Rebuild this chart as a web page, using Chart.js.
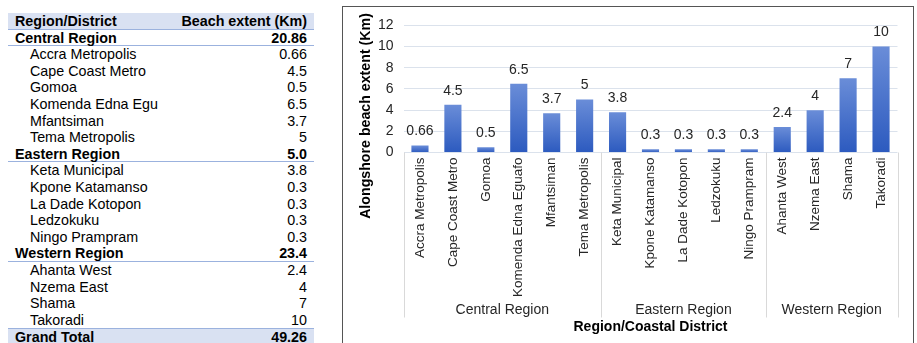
<!DOCTYPE html>
<html>
<head>
<meta charset="utf-8">
<script src="https://cdn.jsdelivr.net/npm/chart.js@4.4.1/dist/chart.umd.min.js"></script>
<style>
  html, body { margin: 0; padding: 0; background: #fff; width: 917px; height: 343px; overflow: hidden; }
  body { font-family: "Liberation Sans", Arial, sans-serif; position: relative; }
  #tbl { position: absolute; left: 8px; top: 13px; width: 306px; }
  .row { position: absolute; left: 0; width: 306px; height: 16.6px; font-size: 14.3px; line-height: 16.6px; color: #000; box-sizing: border-box; }
  .row .n { position: absolute; left: 7px; white-space: nowrap; }
  .row.d .n { left: 22px; }
  .row .v { position: absolute; right: 7px; white-space: nowrap; }
  .row.h, .row.g { background: #d9e1f2; font-weight: bold; }
  .row.h { border-bottom: 1px solid #9bb2de; }
  .row.g { border-top: 1px solid #9bb2de; }
  .row.r { font-weight: bold; border-bottom: 1px solid #9bb2de; }
  #box { position: absolute; left: 342px; top: 6px; width: 572px; height: 345px; border: 1.5px solid #555; box-sizing: border-box; }
  #wrap { position: absolute; left: 0; top: 0; width: 569px; height: 342px; }
</style>
</head>
<body>
<div id="tbl"></div>
<div id="box"><div id="wrap"><canvas id="c"></canvas></div></div>
<script>
// ---- Data ----
const districts = ["Accra Metropolis", "Cape Coast Metro", "Gomoa", "Komenda Edna Eguafo", "Mfantsiman", "Tema Metropolis",
  "Keta Municipal", "Kpone Katamanso", "La Dade Kotopon", "Ledzokuku", "Ningo Prampram",
  "Ahanta West", "Nzema East", "Shama", "Takoradi"];
const beachExtent = [0.66, 4.5, 0.5, 6.5, 3.7, 5, 3.8, 0.3, 0.3, 0.3, 0.3, 2.4, 4, 7, 10];
const regions = ["Central Region", "Eastern Region", "Western Region"];
const regionCounts = [6, 5, 4];
const regionTotals = ["20.86", "5.0", "23.4"];
const tableDistricts = ["Accra Metropolis", "Cape Coast Metro", "Gomoa", "Komenda Edna Egu", "Mfantsiman", "Tema Metropolis",
  "Keta Municipal", "Kpone Katamanso", "La Dade Kotopon", "Ledzokuku", "Ningo Prampram",
  "Ahanta West", "Nzema East", "Shama", "Takoradi"];
const tableValues = ["0.66", "4.5", "0.5", "6.5", "3.7", "5", "3.8", "0.3", "0.3", "0.3", "0.3", "2.4", "4", "7", "10"];
const grandTotal = "49.26";
const yTicks = [0, 2, 4, 6, 8, 10, 12];

// ---- Table ----
const tbl = document.getElementById('tbl');
const rowH = 16.6;
let rIdx = 0;
function addRow(cls, name, val) {
  const d = document.createElement('div');
  d.className = 'row ' + cls;
  d.style.top = (rIdx * rowH) + 'px';
  d.innerHTML = '<span class="n"></span><span class="v"></span>';
  d.querySelector('.n').textContent = name;
  d.querySelector('.v').textContent = val;
  tbl.appendChild(d);
  rIdx++;
}
addRow('h', 'Region/District', 'Beach extent (Km)');
let k = 0;
regions.forEach((r, gi) => {
  addRow('r', r, regionTotals[gi]);
  for (let j = 0; j < regionCounts[gi]; j++, k++) addRow('d', tableDistricts[k], tableValues[k]);
});
addRow('g', 'Grand Total', grandTotal);

// ---- Chart ----
const FONT = "'Liberation Sans', Arial, sans-serif";
const TXT = '#262626';

const extras = {
  id: 'extras',
  afterDraw(chart) {
    const ctx = chart.ctx, xs = chart.scales.x, ca = chart.chartArea;
    const half = (xs.getPixelForValue(1) - xs.getPixelForValue(0)) / 2;
    ctx.save();
    ctx.strokeStyle = '#d9d9d9';
    ctx.lineWidth = 1;
    let start = 0;
    const bounds = [0];
    regionCounts.forEach(c => { start += c; bounds.push(start); });
    bounds.forEach(b => {
      const x = Math.round(xs.getPixelForValue(b) - half) + 0.5;
      ctx.beginPath(); ctx.moveTo(x, ca.bottom); ctx.lineTo(x, 310.5); ctx.stroke();
    });
    ctx.fillStyle = TXT;
    ctx.font = "14px " + FONT;
    ctx.textAlign = 'center'; ctx.textBaseline = 'middle';
    regions.forEach((r, gi) => {
      const x0 = xs.getPixelForValue(bounds[gi]) - half;
      const x1 = xs.getPixelForValue(bounds[gi + 1]) - half;
      ctx.fillText(r, (x0 + x1) / 2, 303.5);
    });
    ctx.fillStyle = '#000';
    ctx.font = "bold 14px " + FONT;
    ctx.fillText('Region/Coastal District', (ca.left + ca.right) / 2, 320.5);
    ctx.save();
    ctx.translate(23.5, 109);
    ctx.rotate(-Math.PI / 2);
    ctx.font = "bold 14.2px " + FONT;
    ctx.fillText('Alongshore beach extent (Km)', 0, 0);
    ctx.restore();
    ctx.fillStyle = TXT;
    ctx.font = "14px " + FONT;
    const meta = chart.getDatasetMeta(0);
    meta.data.forEach((bar, i) => {
      ctx.fillText(String(beachExtent[i]), bar.x, bar.y - 14);
    });
    ctx.restore();
  }
};

new Chart(document.getElementById('c'), {
  type: 'bar',
  data: {
    labels: districts,
    datasets: [{
      data: beachExtent,
      backgroundColor(context) {
        const chart = context.chart;
        const ys = chart.scales && chart.scales.y;
        if (!ys || context.type !== 'data') return '#4472c4';
        const top = ys.getPixelForValue(context.parsed.y);
        const bottom = ys.getPixelForValue(0);
        if (!isFinite(top) || !isFinite(bottom) || top === bottom) return '#4472c4';
        const g = chart.ctx.createLinearGradient(0, top, 0, bottom);
        g.addColorStop(0, '#6a8dd8');
        g.addColorStop(1, '#2c5abf');
        return g;
      },
      borderWidth: 0,
      barPercentage: 0.52,
      categoryPercentage: 1.0
    }]
  },
  options: {
    responsive: true,
    maintainAspectRatio: false,
    animation: false,
    devicePixelRatio: 1,
    layout: { padding: { top: 11, right: 14.5, left: 0, bottom: 0 } },
    plugins: { legend: { display: false }, tooltip: { enabled: false } },
    scales: {
      x: {
        grid: { display: false, drawTicks: false },
        border: { display: false },
        ticks: {
          minRotation: 90, maxRotation: 90, autoSkip: false, padding: 5,
          color: TXT, font: { family: FONT, size: 13.5 }
        },
        afterFit(scale) { scale.height = 196.5; }
      },
      y: {
        min: 0, max: 12,
        afterBuildTicks(scale) { scale.ticks = yTicks.map(v => ({ value: v })); },
        grid: { color: '#dbe2ec', drawTicks: false, lineWidth: 1 },
        border: { display: false },
        ticks: { padding: 10, color: TXT, font: { family: FONT, size: 14 } },
        afterFit(scale) { scale.width = 60.5; }
      }
    }
  },
  plugins: [extras]
});
</script>
</body>
</html>
